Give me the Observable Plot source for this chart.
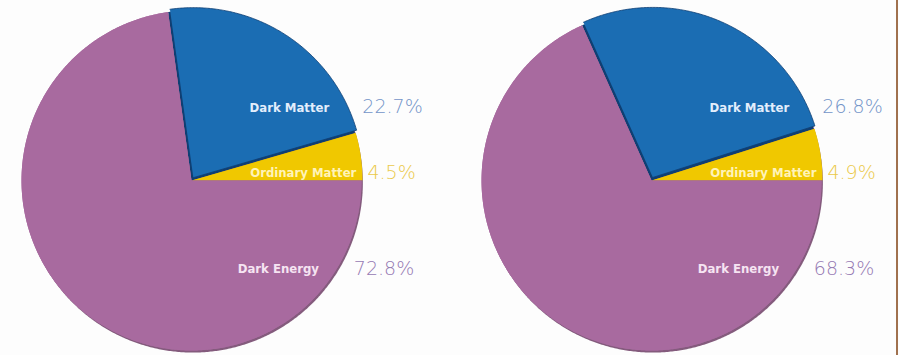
<!DOCTYPE html>
<html>
<head>
<meta charset="utf-8">
<script src="https://cdn.jsdelivr.net/npm/d3@7"></script>
<script src="https://cdn.jsdelivr.net/npm/@observablehq/plot@0.6"></script>
<style>
  html, body { margin: 0; padding: 0; background: #fdfdfd; }
  #wrap { position: relative; width: 899px; height: 355px; overflow: hidden; }
  #edge { position: absolute; left: 896px; top: 0; width: 2px; height: 355px; background: #a0714e; }
</style>
</head>
<body>
<div id="wrap"><div id="chart"></div><div id="edge"></div></div>
<script>
// ---- data ----
const categories = ["Ordinary Matter", "Dark Matter", "Dark Energy"];
const valuesBefore = [4.5, 22.7, 72.8];
const valuesAfter = [4.9, 26.8, 68.3];
const pctLabelsBefore = ["4.5%", "22.7%", "72.8%"];
const pctLabelsAfter = ["4.9%", "26.8%", "68.3%"];

// ---- styling / layout ----
const sliceColors = ["#f0c800", "#1b6db3", "#a86a9f"];
const pctColors = ["#ebc94a", "#7394c8", "#9579b3"];
const nameColors = ["#fff3b8", "#e3eefc", "#f6e4f2"];
const pieCenters = [0, 2.706];           // pie centres in radius units
const explode = [0.006, 0.02, 0];        // small outward offset per slice
const rowY = [0.047, 0.43, -0.52];       // label rows (radius units)
const nameEndX = [0.97, 0.81, 0.75];     // right end of in-slice names
const pctStartX = [1.035, 1.005, 0.955]; // left start of percentages

const pies = [
  {values: valuesBefore, pct: pctLabelsBefore},
  {values: valuesAfter, pct: pctLabelsAfter}
];

const slicePts = [];
const basePts = [];
const shadowPts = [];
const nameLabels = [];
const pctLabels = [];
const step = Math.PI / 360;

function arcPoints(out, ox, oy, a0, a1, key, cat) {
  out.push({x: ox, y: oy, key, cat});
  for (let t = a0; t < a1; t += step) out.push({x: ox + Math.cos(t), y: oy + Math.sin(t), key, cat});
  out.push({x: ox + Math.cos(a1), y: oy + Math.sin(a1), key, cat});
}

pies.forEach((pie, p) => {
  const cx = pieCenters[p];
  for (let t = 0; t <= 2 * Math.PI + 1e-9; t += step) {
    shadowPts.push({x: cx + 0.008 + Math.cos(t), y: -0.012 + Math.sin(t), key: "s" + p});
  }
  let a0 = 0;
  pie.values.forEach((v, i) => {
    const a1 = a0 + v / 100 * 2 * Math.PI;
    const mid = (a0 + a1) / 2;
    const key = p + "-" + i;
    arcPoints(basePts, cx, 0, a0, a1, key, categories[i]);
    arcPoints(slicePts, cx + explode[i] * Math.cos(mid), explode[i] * Math.sin(mid), a0, a1, key, categories[i]);
    a0 = a1;
    nameLabels.push({x: cx + nameEndX[i], y: rowY[i], text: categories[i], color: nameColors[i]});
    pctLabels.push({x: cx + pctStartX[i], y: rowY[i], text: pie.pct[i], color: pctColors[i]});
  });
});

const R = 170;
const chart = Plot.plot({
  width: 899,
  height: 355,
  margin: 0,
  style: {background: "transparent", overflow: "visible"},
  x: {domain: [-191 / R, (899 - 191) / R], range: [0, 899], axis: null},
  y: {domain: [-(355 - 180) / R, 180 / R], range: [355, 0], axis: null},
  color: {domain: categories, range: sliceColors},
  marks: [
    Plot.line(shadowPts, {x: "x", y: "y", z: "key", fill: "#6e3e66", stroke: "none", fillOpacity: 0.85}),
    Plot.line(basePts, {x: "x", y: "y", z: "key", fill: d => d.cat === "Dark Matter" ? "#0f3f73" : d.cat === "Ordinary Matter" ? "#c9a200" : "#a86a9f", stroke: "none"}),
    Plot.line(slicePts, {x: "x", y: "y", z: "key", fill: "cat", stroke: d => d.cat === "Dark Matter" ? "#0f3f73" : "none", strokeWidth: 0.8}),
    Plot.text(nameLabels, {x: "x", y: "y", text: "text", fill: "color", textAnchor: "end",
      fontFamily: "'DejaVu Sans Condensed', 'DejaVu Sans', sans-serif", fontWeight: "bold", fontSize: 13}),
    Plot.text(pctLabels, {x: "x", y: "y", text: "text", fill: "color", textAnchor: "start",
      fontFamily: "'DejaVu Sans', sans-serif", fontWeight: 300, fontSize: 19})
  ]
});
document.getElementById("chart").appendChild(chart);
</script>
</body>
</html>
